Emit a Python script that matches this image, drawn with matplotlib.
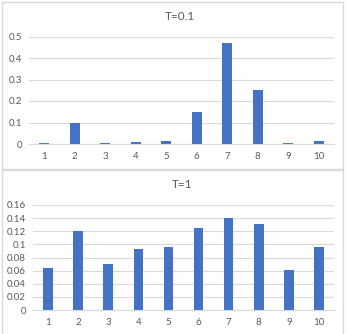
import matplotlib.pyplot as plt
from matplotlib.patches import Rectangle

# -------------------------------
# Data
# -------------------------------
positions = [1, 2, 3, 4, 5, 6, 7, 8, 9, 10]
probs_t01 = [0.003, 0.097, 0.003, 0.007, 0.012, 0.148, 0.47, 0.25, 0.003, 0.012]
probs_t1 = [0.0645, 0.12, 0.0705, 0.093, 0.0955, 0.125, 0.14, 0.131, 0.061, 0.0955]
ticks_t01 = [0, 0.1, 0.2, 0.3, 0.4, 0.5]
ticks_t1 = [0, 0.02, 0.04, 0.06, 0.08, 0.1, 0.12, 0.14, 0.16]
titles = ["T=0.1", "T=1"]

BAR = "#4472C4"
GRID = "#d9d9d9"
TXT = "#595959"

plt.rcParams['font.family'] = ['Lato', 'DejaVu Sans']

W, H = 347, 334
fig = plt.figure(figsize=(W / 100, H / 100), dpi=100)


def px_axes(x0, y0, x1, y1):
    # pixel box (top-left origin) -> figure fraction axes
    return fig.add_axes([x0 / W, 1 - y1 / H, (x1 - x0) / W, (y1 - y0) / H])


# chart frames
fig.patches.append(Rectangle((1.5 / W, 1 - 169 / H), 341 / W, 167.5 / H,
                             transform=fig.transFigure, fill=False,
                             edgecolor=GRID, linewidth=1))
fig.patches.append(Rectangle((1.5 / W, -0.05), 341 / W, 1 - 170.5 / H + 0.05,
                             transform=fig.transFigure, fill=False,
                             edgecolor=GRID, linewidth=1))


def draw_panel(ax, values, ticks, labels_fmt, title, title_y):
    ax.set_axisbelow(True)
    ax.bar(positions, values, width=0.32, color=BAR, zorder=2)
    ax.set_xlim(0.5, 10.5)
    ax.set_ylim(0, ticks[-1])
    ax.set_yticks(ticks)
    ax.set_yticklabels([labels_fmt(t) for t in ticks])
    ax.set_xticks(positions)
    ax.grid(axis='y', color=GRID, linewidth=0.8)
    for s in ['top', 'right', 'left']:
        ax.spines[s].set_visible(False)
    ax.spines['bottom'].set_color(GRID)
    ax.spines['bottom'].set_linewidth(0.8)
    ax.tick_params(length=0, labelsize=7, colors=TXT)
    ax.tick_params(axis='x', pad=6)
    ax.tick_params(axis='y', pad=5)
    fig.text(ax.get_position().x0 + ax.get_position().width / 2 - 0.005,
             1 - title_y / H, title, ha='center', va='center',
             fontsize=8.5, color=TXT)


def fmt(t):
    return "0" if t == 0 else f"{t:g}"


ax1 = px_axes(29, 36.5, 334, 144)
draw_panel(ax1, probs_t01, ticks_t01, fmt, titles[0], 17)

ax2 = px_axes(33, 205, 334, 310)
draw_panel(ax2, probs_t1, ticks_t1, fmt, titles[1], 185)

plt.savefig("out.png", dpi=100)
plt.close()
